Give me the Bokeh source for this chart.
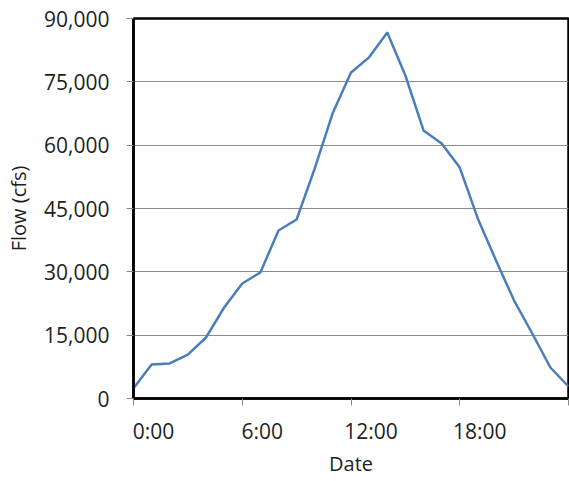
from bokeh.plotting import figure
from bokeh.models import FixedTicker, NumeralTickFormatter, Range1d, LinearAxis
from bokeh.embed import file_html
from bokeh.resources import INLINE

hours = [0, 1, 2, 3, 4, 5, 6, 7, 8, 9, 10, 11, 12, 13, 14, 15, 16, 17, 18, 19, 20, 21, 22, 23, 24]
flow = [2400, 8050, 8300, 10400, 14450, 21550, 27250, 29850, 39800, 42400, 54500, 67700,
        77200, 80800, 86700, 76500, 63500, 60400, 54700, 42600, 32700, 23200, 15400, 7340, 2840]
x_ticks = [0, 6, 12, 18, 24]
x_label_ticks = [0, 6, 12, 18]
x_tick_labels = ["0:00", "6:00", "12:00", "18:00"]
y_ticks = [0, 15000, 30000, 45000, 60000, 75000, 90000]

FONT = "Open Sans"
TEXT = "#1e1e1e"
LABEL_SHIFT = 1.1  # Excel draws the time labels slightly right of their tick marks

p = figure(width=569, height=481, output_backend="svg", toolbar_location=None,
           x_range=Range1d(0, 24), y_range=Range1d(0, 90000),
           min_border_left=133, min_border_right=1, min_border_top=18, min_border_bottom=83)
p.extra_x_ranges = {"labels": Range1d(-LABEL_SHIFT, 24 - LABEL_SHIFT)}

p.line(hours, flow, line_color="#4a7ebb", line_width=2.5)

p.outline_line_color = "black"
p.outline_line_width = 2.5

p.xgrid.grid_line_color = None
p.ygrid.grid_line_color = "#8c8c8c"
p.ygrid.grid_line_width = 1.2

# main x axis: line and tick marks only
p.xaxis.ticker = FixedTicker(ticks=x_ticks)
p.xaxis.major_label_overrides = {t: "" for t in x_ticks}
p.xaxis.major_label_text_font_size = "2px"
p.xaxis.major_label_standoff = 0
p.xaxis.axis_line_color = "black"
p.xaxis.axis_line_width = 2.5
p.xaxis.major_tick_line_color = "#888888"
p.xaxis.major_tick_out = 7
p.xaxis.major_tick_in = 0
p.xaxis.minor_tick_line_color = None

# label axis: shifted time labels and the title
lab = LinearAxis(x_range_name="labels", ticker=FixedTicker(ticks=x_label_ticks))
lab.major_label_overrides = {t: l for t, l in zip(x_label_ticks, x_tick_labels)}
lab.axis_line_color = None
lab.major_tick_line_color = None
lab.minor_tick_line_color = None
lab.major_tick_out = 0
lab.major_tick_in = 0
lab.major_label_text_font = FONT
lab.major_label_text_font_size = "21px"
lab.major_label_text_color = TEXT
lab.major_label_standoff = 11
lab.axis_label = "Date"
lab.axis_label_text_font = FONT
lab.axis_label_text_font_size = "20px"
lab.axis_label_text_font_style = "normal"
lab.axis_label_text_color = TEXT
lab.axis_label_standoff = 2
p.add_layout(lab, "below")

ax = p.yaxis
ax.ticker = FixedTicker(ticks=y_ticks)
ax.formatter = NumeralTickFormatter(format="0,0")
ax.axis_line_color = "black"
ax.axis_line_width = 2.5
ax.major_tick_line_color = "#888888"
ax.major_tick_line_width = 1
ax.major_tick_out = 7
ax.major_tick_in = 0
ax.minor_tick_line_color = None
ax.major_label_text_font = FONT
ax.major_label_text_font_size = "21px"
ax.major_label_text_color = TEXT
ax.major_label_standoff = 17
ax.axis_label = "Flow (cfs)"
ax.axis_label_text_font = FONT
ax.axis_label_text_font_size = "20px"
ax.axis_label_text_font_style = "normal"
ax.axis_label_text_color = TEXT
ax.axis_label_standoff = 9

open("out.html", "w").write(file_html(p, INLINE))
